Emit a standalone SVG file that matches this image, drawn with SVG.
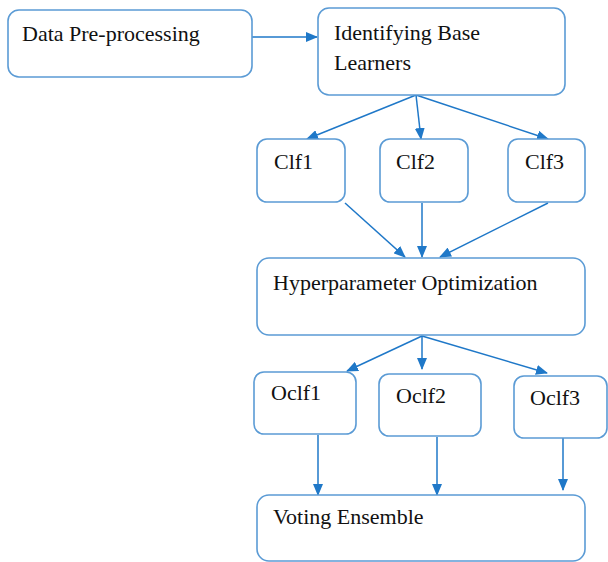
<svg xmlns="http://www.w3.org/2000/svg" width="608" height="562" viewBox="0 0 608 562">
  <style>
    .box { fill: #ffffff; stroke: #5b9bd5; stroke-width: 1.6; }
    .lbl { font-family: "Liberation Serif", "Times New Roman", serif; font-size: 22px; fill: #111111; }
    .edge { stroke: #1f78c8; stroke-width: 1.5; fill: none; marker-end: url(#arrow); }
  </style>
  <defs>
    <marker id="arrow" markerWidth="12" markerHeight="10" refX="11" refY="5" orient="auto" markerUnits="userSpaceOnUse">
      <path d="M0,0 L12,5 L0,10 Z" fill="#1f78c8"/>
    </marker>
  </defs>
  <rect width="608" height="562" fill="#ffffff"/>

  <g id="edges">
    <line class="edge" x1="252" y1="37" x2="317" y2="37"/>
    <line class="edge" x1="416" y1="95" x2="307" y2="139"/>
    <line class="edge" x1="416" y1="95" x2="421" y2="139"/>
    <line class="edge" x1="416" y1="95" x2="548" y2="139"/>
    <line class="edge" x1="345" y1="203" x2="405" y2="257"/>
    <line class="edge" x1="422" y1="203" x2="422" y2="257"/>
    <line class="edge" x1="548" y1="203" x2="440" y2="257"/>
    <line class="edge" x1="422" y1="336" x2="347" y2="371"/>
    <line class="edge" x1="422" y1="336" x2="422" y2="369"/>
    <line class="edge" x1="422" y1="336" x2="547" y2="373"/>
    <line class="edge" x1="318" y1="435" x2="318" y2="495"/>
    <line class="edge" x1="437" y1="437" x2="437" y2="495"/>
    <line class="edge" x1="563" y1="438" x2="563" y2="490"/>
  </g>

  <g id="data-preprocessing">
    <rect class="box" x="8" y="10" width="244" height="67" rx="11"/>
    <text class="lbl" x="22" y="41">Data Pre-processing</text>
  </g>
  <g id="identifying-base-learners">
    <rect class="box" x="318" y="8" width="247" height="87" rx="11"/>
    <text class="lbl" x="334" y="40">Identifying Base</text>
    <text class="lbl" x="334" y="70">Learners</text>
  </g>

  <g id="clf1">
    <rect class="box" x="257" y="139" width="88" height="63" rx="10"/>
    <text class="lbl" x="274" y="169">Clf1</text>
  </g>
  <g id="clf2">
    <rect class="box" x="380" y="139" width="88" height="63" rx="10"/>
    <text class="lbl" x="396" y="169">Clf2</text>
  </g>
  <g id="clf3">
    <rect class="box" x="508" y="139" width="77" height="63" rx="10"/>
    <text class="lbl" x="525" y="169">Clf3</text>
  </g>

  <g id="hyperparameter-optimization">
    <rect class="box" x="257" y="258" width="328" height="77" rx="12"/>
    <text class="lbl" x="273" y="290">Hyperparameter Optimization</text>
  </g>

  <g id="oclf1">
    <rect class="box" x="254" y="372" width="102" height="62" rx="10"/>
    <text class="lbl" x="271" y="400">Oclf1</text>
  </g>
  <g id="oclf2">
    <rect class="box" x="379" y="374" width="102" height="62" rx="10"/>
    <text class="lbl" x="396" y="403">Oclf2</text>
  </g>
  <g id="oclf3">
    <rect class="box" x="514" y="376" width="93" height="62" rx="10"/>
    <text class="lbl" x="530" y="405">Oclf3</text>
  </g>

  <g id="voting-ensemble">
    <rect class="box" x="257" y="495" width="328" height="66" rx="12"/>
    <text class="lbl" x="273" y="524">Voting Ensemble</text>
  </g>
</svg>
